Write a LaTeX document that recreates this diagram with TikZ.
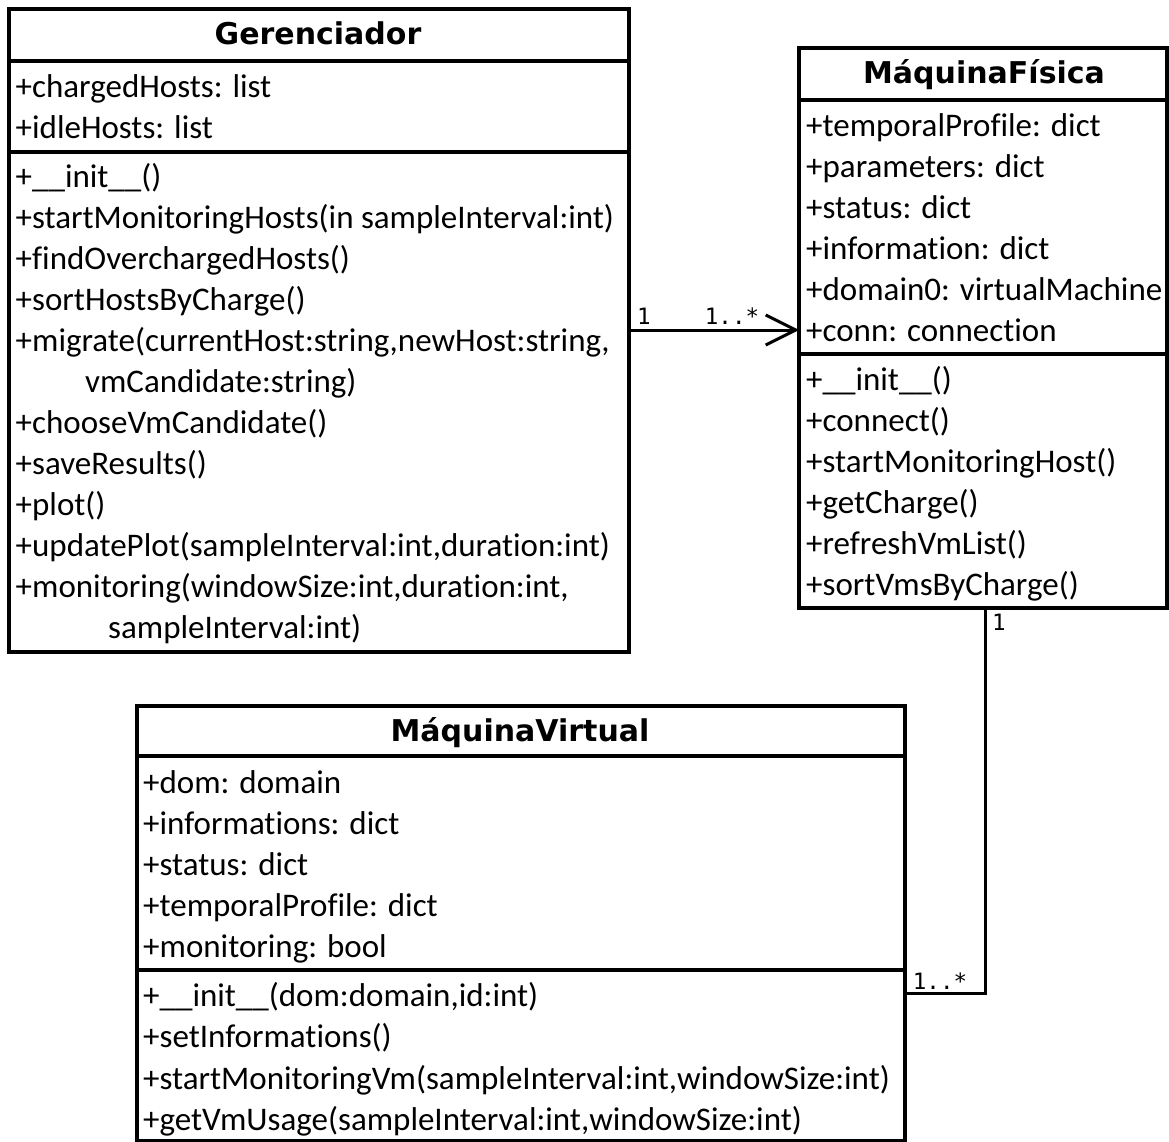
\documentclass[tikz,border=0pt]{standalone}
\usepackage{fontspec}
\setmainfont{Carlito}[Ligatures=NoCommon]
\newfontfamily\titlefont{DejaVu Sans}
\newfontfamily\multfont{DejaVu Sans Mono}
\usetikzlibrary{arrows.meta}

\begin{document}
\begin{tikzpicture}[x=1pt,y=-1pt,
  comp/.style={draw=black, line width=3.5pt, outer sep=0pt, inner sep=0pt,
    anchor=north west},
  member/.style={anchor=base west, inner sep=0pt,
    font=\fontsize{33}{38}\selectfont},
  classname/.style={anchor=base, inner sep=0pt,
    font=\titlefont\bfseries\fontsize{30}{34}\selectfont},
  mult/.style={inner sep=0pt, font=\multfont\fontsize{22.5}{26}\selectfont},
  assoc/.style={draw=black, line width=3pt}]

\fill[white] (0,0) rectangle (1169,1142);
\useasboundingbox (0,0) rectangle (1169,1142);

% ---------------- Gerenciador ----------------
\node[comp, minimum width=620pt, minimum height=52pt]  (gname) at (9,9) {};
\node[comp, minimum width=620pt, minimum height=91pt]  (gattr) at (9,61) {};
\node[comp, minimum width=620pt, minimum height=500pt] (gops)  at (9,152) {};
\node[classname] (gtitle) at (318,45) {Gerenciador};

\foreach \t [count=\i from 0] in {{+chargedHosts: list},{+idleHosts: list}}
  \node[member] (ga\i) at (15.5,97.5+41*\i) {\t};

\foreach \t [count=\i from 0] in {
    {+\_\_init\_\_()},
    {+startMonitoringHosts(in sampleInterval:int)},
    {+findOverchargedHosts()},
    {+sortHostsByCharge()},
    {+migrate(currentHost:string,newHost:string,},
    {},
    {+chooseVmCandidate()},
    {+saveResults()},
    {+plot()},
    {+updatePlot(sampleInterval:int,duration:int)},
    {+monitoring(windowSize:int,duration:int,},
    {}}
  \node[member] (go\i) at (15.5,187.5+41*\i) {\t};
\node[member] (go5b)  at (85,187.5+41*5)  {vmCandidate:string)};
\node[member] (go11b) at (108,187.5+41*11) {sampleInterval:int)};

% ---------------- MaquinaFisica ----------------
\node[comp, minimum width=368pt, minimum height=52pt]  (fname) at (799,48) {};
\node[comp, minimum width=368pt, minimum height=254pt] (fattr) at (799,100) {};
\node[comp, minimum width=368pt, minimum height=254pt] (fops)  at (799,354) {};
\node[classname] (ftitle) at (984,84) {MáquinaFísica};

\foreach \t [count=\i from 0] in {
    {+temporalProfile: dict},
    {+parameters: dict},
    {+status: dict},
    {+information: dict},
    {+domain0: virtualMachine},
    {+conn: connection}}
  \node[member] (fa\i) at (806,136.5+41*\i) {\t};

\foreach \t [count=\i from 0] in {
    {+\_\_init\_\_()},
    {+connect()},
    {+startMonitoringHost()},
    {+getCharge()},
    {+refreshVmList()},
    {+sortVmsByCharge()}}
  \node[member] (fo\i) at (806,390.5+41*\i) {\t};

% ---------------- MaquinaVirtual ----------------
\node[comp, minimum width=768pt, minimum height=50pt]  (vname) at (137,706) {};
\node[comp, minimum width=768pt, minimum height=214pt] (vattr) at (137,756) {};
\node[comp, minimum width=768pt, minimum height=171pt] (vops)  at (137,970) {};
\node[classname] (vtitle) at (520,741) {MáquinaVirtual};

\foreach \t [count=\i from 0] in {
    {+dom: domain},
    {+informations: dict},
    {+status: dict},
    {+temporalProfile: dict},
    {+monitoring: bool}}
  \node[member] (va\i) at (143,793.5+41*\i) {\t};

\foreach \t [count=\i from 0] in {
    {+\_\_init\_\_(dom:domain,id:int)},
    {+setInformations()},
    {+startMonitoringVm(sampleInterval:int,windowSize:int)},
    {+getVmUsage(sampleInterval:int,windowSize:int)}}
  \node[member] (vo\i) at (143,1006.5+41.3*\i) {\t};

% ---------------- associations ----------------
\coordinate (ay) at (0,330);
\draw[assoc, -{Straight Barb[length=30pt, width=30pt, line width=3pt]}]
  (gops.east |- ay) -- (fattr.west |- ay);
\node[mult] (m1) at (644,316) {1};
\node[mult] (m2) at (732,316) {1..*};

\coordinate (bx) at (985,0);
\coordinate (by) at (0,993);
\draw[assoc] (fops.south -| bx) -- (bx |- by) -- (vops.east |- by);
\node[mult] (m3) at (999,622) {1};
\node[mult] (m4) at (940,981) {1..*};
\end{tikzpicture}
\end{document}
